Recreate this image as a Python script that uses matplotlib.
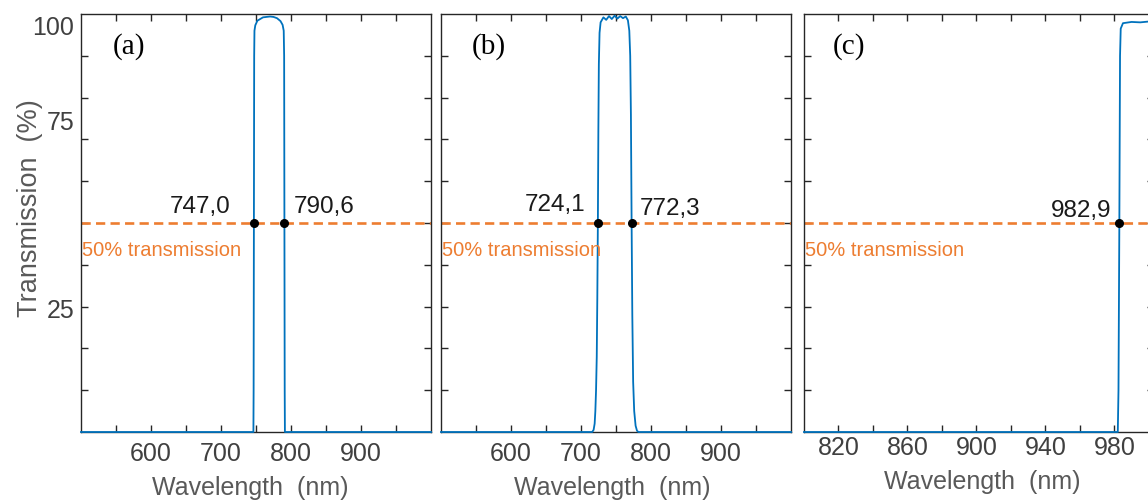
import numpy as np
import matplotlib.pyplot as plt

wl_a = [500, 746.3, 746.6, 747.0, 747.4, 747.8, 749, 752, 756, 760, 765, 770,
        775, 780, 785, 788, 789.6, 790.2, 790.6, 791.0, 791.3, 1000]
tr_a = [0, 0, 10, 50, 90, 96, 97.3, 98.4, 98.8, 99.2, 99.3, 99.4,
        99.3, 99.0, 98.3, 97.4, 96, 90, 50, 10, 0, 0]

# Filter (b)
wl_b = [500, 716, 718, 719.5, 720.5, 721.5, 722.5, 723.3, 724.1, 724.8, 725.5,
        726.5, 728, 732, 736, 740, 744, 748, 752, 756, 760, 764, 767, 769,
        770.3, 771.3, 772.3, 773.3, 774.5, 776, 778, 780, 782, 1000]
tr_b = [0, 0, 0.5, 2, 5, 10, 18, 32, 50, 72, 88,
        95.5, 98, 99.2, 98.6, 99.5, 98.8, 99.6, 98.9, 99.5, 99.0, 99.4, 98.5, 96,
        90, 76, 50, 28, 12, 5, 1.5, 0.3, 0, 0]

# Filter (c)
wl_c = [800, 982.0, 982.4, 982.9, 983.3, 983.7, 985, 990, 995, 1000, 1003]
tr_c = [0, 0, 10, 50, 90, 96.5, 97.8, 98.1, 98.0, 98.2, 98.1]

# 50 % crossing points
cross_a = [747.0, 790.6]
cross_b = [724.1, 772.3]
cross_c = [982.9]
cross_lbl_a = ['747,0', '790,6']
cross_lbl_b = ['724,1', '772,3']
cross_lbl_c = ['982,9']

panel_lbl = ['(a)', '(b)', '(c)']

xticks_ab = [550, 600, 650, 700, 750, 800, 850, 900, 950]
xtick_lbl_ab = ['', '600', '', '700', '', '800', '', '900', '']
xticks_c = [820, 840, 860, 880, 900, 920, 940, 960, 980, 1000]
xtick_lbl_c = ['820', '', '860', '', '900', '', '940', '', '980', '']

yticks = [10, 20, 30, 40, 50, 60, 70, 80, 90]
ytick_text = ['100', '75', '25']
ytick_text_pos = [96.7, 73.9, 28.9]

blue = '#0072BD'
orange = '#ED7D31'
grey = '#404040'

plt.rcParams['font.family'] = ['Liberation Sans', 'DejaVu Sans']

W, H = 1148, 503
fig = plt.figure(figsize=(W / 100, H / 100), dpi=100)

def box(l, r, b=432, t=14):
    return [l / W, 1 - b / H, (r - l) / W, (b - t) / H]

axes = [fig.add_axes(box(81, 431)), fig.add_axes(box(441, 791)),
        fig.add_axes(box(804, 1154))]

datasets = [(wl_a, tr_a, cross_a, cross_lbl_a, (500, 1000), xticks_ab, xtick_lbl_ab),
            (wl_b, tr_b, cross_b, cross_lbl_b, (500, 1000), xticks_ab, xtick_lbl_ab),
            (wl_c, tr_c, cross_c, cross_lbl_c, (800, 1003), xticks_c, xtick_lbl_c)]

# label offsets (points) for each crossing label: (dx, dy, ha)
offsets = [[(-17, 7, 'right'), (7, 7, 'left')],
           [(-9, 9, 'right'), (6, 6, 'left')],
           [(-6, 4, 'right')]]

for i, (ax, (wl, tr, cx, cl, xl, xt, xtl)) in enumerate(zip(axes, datasets)):
    ax.axhline(50, color=orange, lw=1.9, ls=(0, (3.5, 2)), zorder=2)
    ax.plot(wl, tr, color=blue, lw=1.3, zorder=3, clip_on=False)
    ax.plot(cx, [50] * len(cx), 'o', color='black', ms=5.5, zorder=4)
    for x, s, (dx, dy, ha) in zip(cx, cl, offsets[i]):
        ax.annotate(s, (x, 50), xytext=(dx, dy), textcoords='offset points',
                    ha=ha, va='baseline', fontsize=17.5, color='#1a1a1a')
    ax.text(0.004, 43.5, '50% transmission', transform=ax.get_yaxis_transform(),
            color=orange, fontsize=14.5, ha='left', va='center')
    ax.text(0.137 if i < 2 else 0.13, 0.921, panel_lbl[i], transform=ax.transAxes,
            fontsize=21, family='Liberation Serif', ha='center', va='center')
    ax.set_xlim(*xl)
    ax.set_ylim(0, 100)
    ax.set_xticks(xt)
    ax.set_xticklabels(xtl)
    ax.set_yticks(yticks)
    ax.set_yticklabels([])
    ax.tick_params(direction='in', top=True, right=True, length=5, width=1,
                   color='#262626', labelsize=18, labelcolor=grey,
                   pad=7 if i < 2 else 3)
    for sp in ax.spines.values():
        sp.set_color('#262626')
        sp.set_linewidth(1.0)
    ax.spines['bottom'].set_zorder(1)

for s, y in zip(ytick_text, ytick_text_pos):
    axes[0].text(-0.02, y, s, transform=axes[0].get_yaxis_transform(),
                 ha='right', va='center', fontsize=18, color=grey)

fig.text(30 / W, 1 - 208 / H, 'Transmission  (%)', rotation=90, ha='center',
         va='center', fontsize=19.5, color='#595959')
for x, y in [(250, 488), (612, 488), (982, 482)]:
    fig.text(x / W, 1 - y / H, 'Wavelength  (nm)', ha='center', va='center',
             fontsize=18, color='#595959')

fig.savefig('out.png', dpi=100)
